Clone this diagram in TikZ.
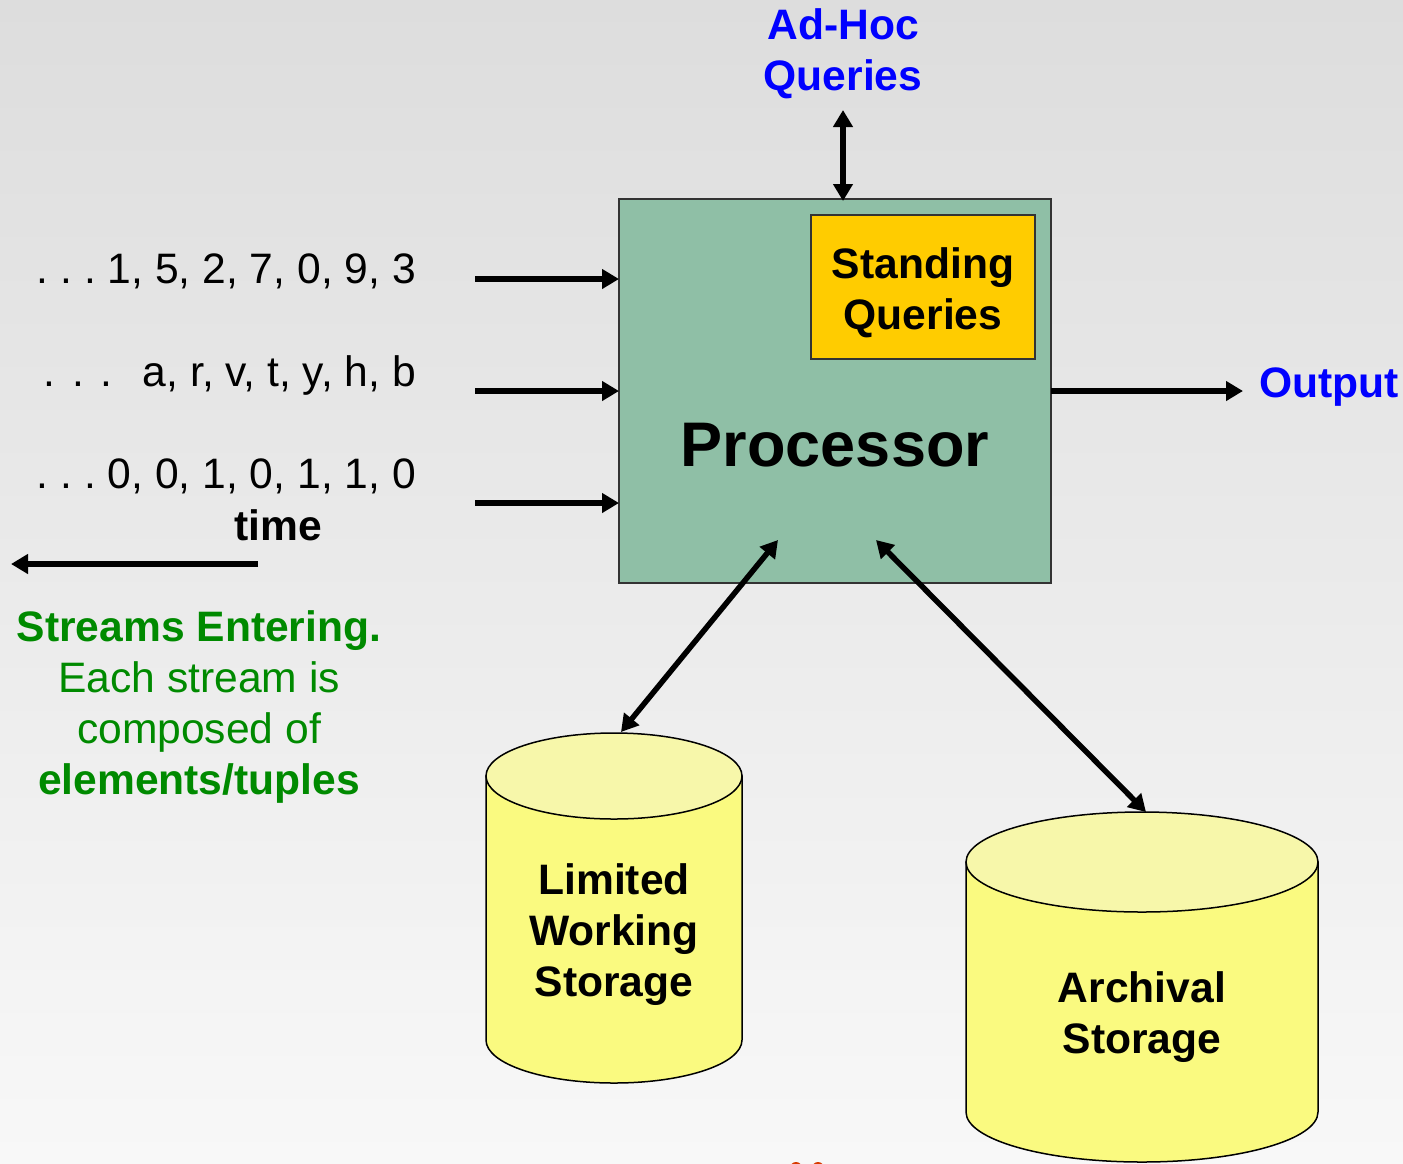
\documentclass[tikz,border=0pt]{standalone}
\usepackage{fontspec}
\setmainfont{Liberation Sans}
\usetikzlibrary{arrows.meta}
\definecolor{procgreen}{HTML}{8FBFA6}
\definecolor{sqyellow}{HTML}{FFCC00}
\definecolor{cylbody}{HTML}{FAFA80}
\definecolor{cyltop}{HTML}{F7F7AA}
\definecolor{txtgreen}{HTML}{008A00}
\definecolor{txtblue}{HTML}{0000FF}
\definecolor{bgtop}{HTML}{DDDDDD}
\definecolor{bgbot}{HTML}{F8F8F8}
\definecolor{fragorange}{HTML}{D83B01}
\begin{document}
\begin{tikzpicture}[x=1pt,y=-1pt,
  txt/.style={font=\fontsize{42.6}{51}\selectfont, align=center, inner sep=0pt},
  btxt/.style={txt, font=\fontsize{42.6}{51}\selectfont\bfseries},
  box/.style={draw=black!80, line width=1.5pt},
  arr/.style={line width=5.5pt, -{Triangle[length=17pt,width=19pt]}},
  darr/.style={line width=5.5pt, {Triangle[length=17pt,width=19pt]}-{Triangle[length=17pt,width=19pt]}},
  cyl/.style={draw=black, line width=1.5pt}
]
\useasboundingbox (0,0) rectangle (1403,1163);
\shade[top color=bgtop, bottom color=bgbot] (0,0) rectangle (1403,1163);

% Processor
\node[box, fill=procgreen, minimum width=432pt, minimum height=384pt, inner sep=0pt] (proc) at (835,391) {};
\node[font=\fontsize{63}{70}\selectfont\bfseries, inner sep=0pt] (proclabel) at (835,445) {Processor};
\node[box, fill=sqyellow, minimum width=224pt, minimum height=144pt, inner sep=0pt] (sq) at (923,287) {};
\node[btxt] (sqlabel) at (923,293) {Standing\\Queries};

% Ad-hoc
\node[btxt, text=txtblue] (adhoc) at (843,54) {Ad-Hoc\\Queries};
\coordinate (adhocend) at (843,110);
\coordinate (proctop) at (843,201);
\draw[darr] (adhocend) -- (proctop);

% Output
\node[btxt, text=txtblue, anchor=west] (output) at (1259,387) {Output};
\coordinate (outstart) at (1051,391);
\coordinate (outend) at (1243,391);
\draw[arr] (outstart) -- (outend);

% Streams
\node[txt, anchor=east] (s1) at (416,271) {.\ .\ .\ 1, 5, 2, 7, 0, 9, 3};
\node[txt, anchor=east] (s2) at (416,375) {.\hspace{17pt}.\hspace{17pt}.\hspace{30pt}a, r, v, t, y, h, b};
\node[txt, anchor=east] (s3) at (416,476) {.\ .\ .\ 0, 0, 1, 0, 1, 1, 0};
\coordinate (a1s) at (475,279); \coordinate (a1e) at (619,279);
\coordinate (a2s) at (475,391); \coordinate (a2e) at (619,391);
\coordinate (a3s) at (475,503); \coordinate (a3e) at (619,503);
\draw[arr] (a1s) -- (a1e);
\draw[arr] (a2s) -- (a2e);
\draw[arr] (a3s) -- (a3e);
\node[btxt] (time) at (278,525) {time};
\coordinate (ts) at (258,564); \coordinate (te) at (11,564);
\draw[arr] (ts) -- (te);

% Green description
\node[txt, text=txtgreen] (desc) at (199,707) {\textbf{Streams Entering.}\\Each stream is\hspace*{12pt}\\composed of\hspace*{12pt}\\\textbf{elements/tuples}};

% Limited working storage cylinder
\path[cyl, fill=cylbody] (486,776) -- (486,1040) arc[start angle=180, end angle=0, x radius=128, y radius=43] -- (742,776) -- cycle;
\path[cyl, fill=cyltop] (614,776) ellipse [x radius=128, y radius=43];
\node[btxt] (lws) at (614,935) {Limited\\Working\\Storage};
\coordinate (lwstop) at (621,732);

% Archival storage cylinder
\path[cyl, fill=cylbody] (966,862) -- (966,1112) arc[start angle=180, end angle=0, x radius=176, y radius=50] -- (1318,862) -- cycle;
\path[cyl, fill=cyltop] (1142,862) ellipse [x radius=176, y radius=50];
\node[btxt] (arch) at (1142,1017) {Archival\\Storage};
\coordinate (archtop) at (1146,812);

% Processor <-> storage
\coordinate (p1) at (778,540);
\coordinate (p2) at (876,540);
\draw[darr] (p1) -- (lwstop);
\draw[darr] (p2) -- (archtop);

% cut-off fragment at bottom edge
\fill[fragorange] (796,1168) circle (6);
\fill[fragorange] (818,1168) circle (6);
\end{tikzpicture}
\end{document}
